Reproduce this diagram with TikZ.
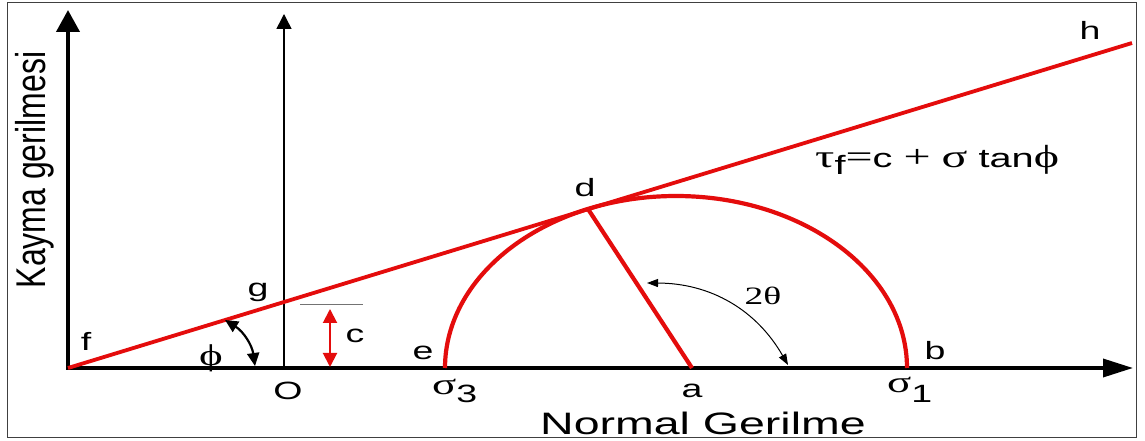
\documentclass[tikz,border=0pt]{standalone}
\usepackage{fontspec}
\usepackage{graphicx}
\setmainfont{Liberation Sans}
\newfontfamily\grk{Liberation Serif}
\usetikzlibrary{arrows.meta}
\definecolor{mred}{RGB}{228,12,12}
\newcommand{\sx}[1]{\scalebox{1.5}[1]{#1}}
\newcommand{\gk}[1]{{\grk\fontsize{30}{30}\selectfont #1}}
\newcommand{\gkb}[1]{{\grk\fontsize{32}{32}\selectfont #1}}
\begin{document}
\begin{tikzpicture}[x=1pt,y=1pt,
  lbl/.style={font=\fontsize{25}{25}\selectfont, inner sep=0pt, anchor=base},
  redline/.style={draw=mred, line width=3.8pt},
  bigaxis/.style={line width=4pt},
]
\useasboundingbox (0,0) rectangle (1145,441);
\fill[white] (0,0) rectangle (1145,441);
\draw[black!75, line width=1pt] (7,3) rectangle (1136,438);
% coordinates
\coordinate (f) at (68,73);
\coordinate (h) at (1132,398);
\coordinate (ytop) at (68,431);
\coordinate (xend) at (1133,73);
\coordinate (xstart) at (66,73);
\coordinate (o) at (284,73);
\coordinate (otop) at (284,427);
\coordinate (e) at (445,73);
\coordinate (b) at (907,73);
\coordinate (a) at (692,73);
\coordinate (d) at (588,232);
% axes
\draw[bigaxis, -{Triangle[length=22pt,width=23pt]}] (f) -- (ytop);
\draw[line width=3.5pt, -{Triangle[length=30pt,width=18pt]}] (xstart) -- (xend);
\draw[line width=1.5pt, -{Triangle[length=15pt,width=15pt]}] (o) -- (otop);
% Mohr circle
\draw[redline, line width=4.2pt] (e) arc[start angle=180, end angle=0, x radius=231pt, y radius=172pt];
\draw[redline] (f) -- (h);
\draw[redline, line width=4.2pt] (a) -- (d);
% c
\coordinate (c1) at (300,136);
\coordinate (c2) at (363,136);
\draw[black!55, line width=1pt] (c1) -- (c2);
\coordinate (ca) at (330,132);
\coordinate (cb) at (330,74);
\draw[mred, line width=2pt, {Triangle[length=14pt,width=14pt]}-{Triangle[length=14pt,width=14pt]}] (ca) -- (cb);
% phi arc
\coordinate (p1) at (225,121);
\coordinate (p2) at (255,75);
\draw[line width=2.2pt, {Triangle[length=13pt,width=12pt]}-{Triangle[length=13pt,width=12pt]}] (p1) to[bend left=25] (p2);
% 2theta arc
\coordinate (t1) at (647,158);
\coordinate (t2) at (788,76);
\draw[line width=1pt, {Triangle[length=11pt,width=8pt]}-{Triangle[length=11pt,width=8pt]}] (t1) to[bend left=30] (t2);
% labels
\node[lbl] (lh) at (1090,401) {\sx{h}};
\node[lbl] (lf) at (86,90) {\sx{f}};
\node[lbl] (lg) at (258,144) {\sx{g}};
\node[lbl] (lO) at (288,41) {\sx{O}};
\node[lbl] (lc) at (355,98) {\sx{c}};
\node[lbl] (lphi) at (211,75) {\sx{\gk{ϕ}}};
\node[lbl] (le) at (423,81) {\sx{e}};
\node[lbl, anchor=base west] (ls3) at (432,46) {\sx{\gk{σ}\raisebox{-8pt}{3}}};
\node[lbl] (la) at (692,43) {\sx{a}};
\node[lbl] (ld) at (585,244) {\sx{d}};
\node[lbl] (lb) at (935,81) {\sx{b}};
\node[lbl, anchor=base west] (ls1) at (887,48) {\sx{\gk{σ}\raisebox{-10pt}{1}}};
\node[lbl] (lth) at (763,136) {\sx{\grk 2θ}};
\node[lbl, font=\fontsize{31}{31}\selectfont] (lx) at (703,6) {\sx{Normal Gerilme}};
\node[lbl, anchor=base west, font=\fontsize{26.5}{26.5}\selectfont] (form) at (815,273) {\sx{\gkb{τ}\raisebox{-7pt}{f}\gkb{=}c \gkb{+} \gkb{σ} tan\gkb{ϕ}}};
\node[font=\fontsize{32}{32}\selectfont, inner sep=0pt, rotate=90, anchor=base] (ly) at (46,271) {\scalebox{1}[1.3]{Kayma gerilmesi}};
\end{tikzpicture}
\end{document}
